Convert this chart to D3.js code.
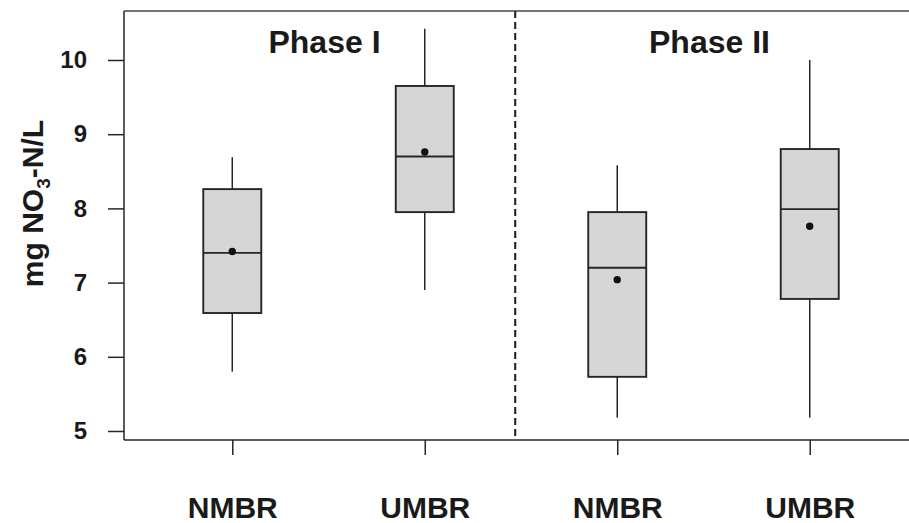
<!DOCTYPE html>
<html>
<head>
<meta charset="utf-8">
<script src="https://cdn.jsdelivr.net/npm/d3@7"></script>
<style>
  html, body { margin: 0; padding: 0; background: #fff; }
  svg { display: block; }
  text { font-family: "Liberation Sans", Arial, Helvetica, sans-serif; font-weight: bold; fill: #1a1a1a; }
</style>
</head>
<body>
<svg id="chart" width="909" height="523"></svg>
<script>
// ---- data ----
const categories   = ["NMBR", "UMBR", "NMBR", "UMBR"];
const phases       = ["Phase I", "Phase II"];
const phaseOf      = [0, 0, 1, 1];
const whiskerLow   = [5.80, 6.90, 5.18, 5.18];
const q1           = [6.59, 7.95, 5.73, 6.78];
const median       = [7.40, 8.70, 7.20, 7.99];
const q3           = [8.26, 9.65, 7.95, 8.80];
const whiskerHigh  = [8.69, 10.42, 8.58, 10.00];
const means        = [7.42, 8.76, 7.04, 7.76];
const yTicks       = [5, 6, 7, 8, 9, 10];
const phaseDivider = 1.47;   // between group 2 and 3

// ---- layout ----
const svg = d3.select("#chart");
const frame = { left: 124, right: 909, top: 11, bottom: 440 };

const x = d3.scaleLinear().domain([-0.5625, 3.5625]).range([124, 918]);
const y = d3.scaleLinear().domain([5, 10]).range([431, 60]);
const boxW = 58;
const ink = "#262626";

// frame: top border
svg.append("line")
  .attr("x1", frame.left).attr("x2", frame.right)
  .attr("y1", frame.top).attr("y2", frame.top)
  .attr("stroke", "#444").attr("stroke-width", 1.5);

// y axis
const yAxis = d3.axisLeft(y).tickValues(yTicks).tickSize(16).tickPadding(21).tickFormat(d3.format("d"));
const gy = svg.append("g").attr("transform", `translate(${frame.left},0)`).call(yAxis);
gy.select(".domain").remove();
gy.selectAll(".tick line").attr("stroke", ink).attr("stroke-width", 1.5);
gy.selectAll(".tick text").style("font-size", "24px").style("font-family", "'Liberation Sans', Arial, sans-serif").style("font-weight", "bold").attr("fill", "#1a1a1a");
svg.append("line")
  .attr("x1", frame.left).attr("x2", frame.left)
  .attr("y1", frame.top).attr("y2", frame.bottom)
  .attr("stroke", ink).attr("stroke-width", 1.5);

// x axis
const idx = categories.map((d, i) => i);
const xAxis = d3.axisBottom(x).tickValues(idx).tickSize(15).tickPadding(42).tickFormat(i => categories[i]);
const gx = svg.append("g").attr("transform", `translate(0,${frame.bottom})`).call(xAxis);
gx.select(".domain").remove();
gx.selectAll(".tick line").attr("stroke", ink).attr("stroke-width", 1.5);
gx.selectAll(".tick text").style("font-size", "30px").style("font-family", "'Liberation Sans', Arial, sans-serif").style("font-weight", "bold").attr("fill", "#1a1a1a");
svg.append("line")
  .attr("x1", frame.left).attr("x2", frame.right)
  .attr("y1", frame.bottom).attr("y2", frame.bottom)
  .attr("stroke", ink).attr("stroke-width", 1.5);

// phase divider
svg.append("line")
  .attr("x1", x(phaseDivider)).attr("x2", x(phaseDivider))
  .attr("y1", frame.top).attr("y2", frame.bottom)
  .attr("stroke", "#1a1a1a").attr("stroke-width", 2)
  .attr("stroke-dasharray", "7,4");

// phase titles
phases.forEach((p, k) => {
  const members = idx.filter(i => phaseOf[i] === k);
  const cx = d3.mean(members, i => x(i)) - 4;
  svg.append("text")
    .attr("x", cx).attr("y", 53)
    .attr("text-anchor", "middle")
    .style("font-size", "32px")
    .text(p);
});

// boxes
const g = svg.append("g");
idx.forEach(i => {
  const cx = x(i);
  // whiskers
  g.append("line").attr("x1", cx).attr("x2", cx)
    .attr("y1", y(whiskerHigh[i])).attr("y2", y(q3[i]))
    .attr("stroke", ink).attr("stroke-width", 1.5);
  g.append("line").attr("x1", cx).attr("x2", cx)
    .attr("y1", y(q1[i])).attr("y2", y(whiskerLow[i]))
    .attr("stroke", ink).attr("stroke-width", 1.5);
  // box
  g.append("rect")
    .attr("x", cx - boxW / 2).attr("width", boxW)
    .attr("y", y(q3[i])).attr("height", y(q1[i]) - y(q3[i]))
    .attr("fill", "#d6d6d6").attr("stroke", ink).attr("stroke-width", 1.9);
  // median
  g.append("line")
    .attr("x1", cx - boxW / 2).attr("x2", cx + boxW / 2)
    .attr("y1", y(median[i])).attr("y2", y(median[i]))
    .attr("stroke", ink).attr("stroke-width", 1.9);
  // mean
  g.append("circle")
    .attr("cx", cx).attr("cy", y(means[i])).attr("r", 3.7)
    .attr("fill", "#111");
});

// y label
const yl = svg.append("text")
  .attr("transform", `translate(43,${(frame.top + frame.bottom) / 2 - 22}) rotate(-90)`)
  .attr("text-anchor", "middle")
  .style("font-size", "30px");
yl.append("tspan").text("mg NO");
yl.append("tspan").attr("dy", 7).style("font-size", "19px").text("3");
yl.append("tspan").attr("dy", -7).text("-N/L");
</script>
</body>
</html>
